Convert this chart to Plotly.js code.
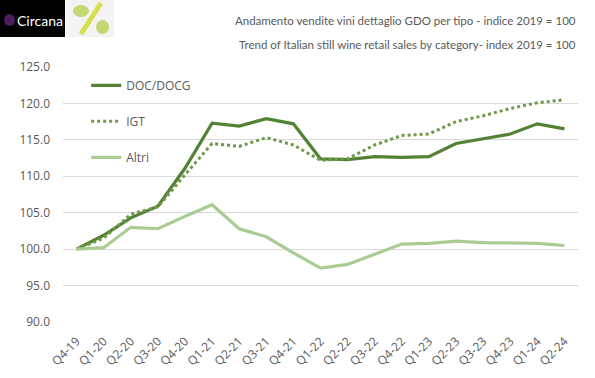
<!DOCTYPE html>
<html>
<head>
<meta charset="utf-8">
<script src="https://cdn.plot.ly/plotly-3.0.1.min.js"></script>
<style>html,body{margin:0;padding:0;background:#fff;}#chart{width:595px;height:378px;}</style>
</head>
<body>
<div id="chart"></div>
<script>
const quarters = ["Q4-19","Q1-20","Q2-20","Q3-20","Q4-20","Q1-21","Q2-21","Q3-21","Q4-21","Q1-22","Q2-22","Q3-22","Q4-22","Q1-23","Q2-23","Q3-23","Q4-23","Q1-24","Q2-24"];
const docDocg = [100.0,101.9,104.3,105.9,111.1,117.3,116.9,117.9,117.2,112.4,112.3,112.7,112.6,112.7,114.5,115.1,115.8,117.2,116.5];
const igt     = [100.0,101.5,104.8,105.8,110.2,114.5,114.1,115.3,114.3,112.2,112.4,114.3,115.6,115.8,117.5,118.3,119.3,120.1,120.5];
const altri   = [100.0,100.2,103.0,102.8,104.5,106.1,102.8,101.7,99.5,97.4,97.9,99.3,100.7,100.8,101.1,100.9,100.9,100.8,100.5];
const seriesNames = ["DOC/DOCG","IGT","Altri"];
const titleLines = ["Andamento vendite vini dettaglio GDO per tipo - indice 2019 = 100",
                    "Trend of Italian still wine retail sales by category- index 2019 = 100"];

const font = "Open Sans, Liberation Sans, Arial, sans-serif";
const titleFont = "Lato, sans-serif";
const PW = 515, PH = 255;
const traces = [
  {x: quarters, y: docDocg, name: seriesNames[0], mode: "lines", legendgroup: "a",
   line: {color: "#548235", width: 3.2}},
  {x: quarters, y: igt, name: seriesNames[1], mode: "lines", legendgroup: "b",
   line: {color: "#6c9a48", width: 3, dash: "dot"}},
  {x: quarters, y: altri, name: seriesNames[2], mode: "lines", legendgroup: "c",
   line: {color: "#a9cc95", width: 3.2}}
];

const layout = {
  width: 595, height: 378,
  margin: {l: 63, r: 17, t: 67, b: 56},
  paper_bgcolor: "#ffffff", plot_bgcolor: "#ffffff",
  font: {family: font, color: "#595959", size: 12},
  showlegend: true,
  legend: {x: 0.045, y: 0.985, xanchor: "left", yanchor: "top", traceorder: "grouped",
           tracegroupgap: 17, bgcolor: "rgba(0,0,0,0)", font: {size: 12, color: "#595959"}},
  xaxis: {type: "category", range: [-0.5, quarters.length - 0.5], tickangle: -45, showgrid: false,
          zeroline: false, showline: false, ticks: "", ticklabelstandoff: 9,
          tickfont: {size: 12, color: "#595959"}, fixedrange: true},
  yaxis: {range: [90, 125], dtick: 5, tick0: 90, tickformat: ".1f", showgrid: true,
          gridcolor: "#d9d9d9", gridwidth: 1, zeroline: false, showline: false, ticks: "",
          ticklabelstandoff: 12, tickfont: {size: 12, color: "#595959"}, fixedrange: true},
  annotations: [
    {xref: "paper", yref: "paper", x: 1, y: 1 + (67 - 21) / PH, text: titleLines[0],
     showarrow: false, xanchor: "right", yanchor: "middle",
     font: {size: 11.5, color: "#595959", family: titleFont}},
    {xref: "paper", yref: "paper", x: 1, y: 1 + (67 - 44) / PH, text: titleLines[1],
     showarrow: false, xanchor: "right", yanchor: "middle",
     font: {size: 11.5, color: "#595959", family: titleFont}},
    {xref: "paper", yref: "paper", x: -63/PW + 15/PW, y: 1 + (67-20)/PH, text: "Circana",
     showarrow: false, xanchor: "left", yanchor: "middle",
     font: {size: 14, color: "#ffffff", family: "Lato, sans-serif"}}
  ],
  shapes: [
    {type: "rect", xref: "paper", yref: "paper", x0: -63/PW, x1: 2/PW, y0: 1 + 30/PH, y1: 1 + 67/PH,
     fillcolor: "#000000", line: {width: 0}},
    {type: "circle", xref: "paper", yref: "paper", x0: -59/PW, x1: -48/PW, y0: 1 + 41/PH, y1: 1 + 53/PH,
     fillcolor: "#4a1d5e", line: {width: 0}},
    {type: "rect", xref: "paper", yref: "paper", x0: 3/PW, x1: 51/PW, y0: 1 + 30/PH, y1: 1 + 67/PH,
     fillcolor: "#f3f3f3", line: {width: 0}},
    {type: "line", xref: "paper", yref: "paper", x0: 18/PW, x1: 38/PW, y0: 1 + 33/PH, y1: 1 + 64/PH,
     line: {color: "#d6e04a", width: 5}},
    {type: "circle", xref: "paper", yref: "paper", x0: 10/PW, x1: 26/PW, y0: 1 + 50/PH, y1: 1 + 62/PH,
     fillcolor: "#c3d870", line: {width: 0}},
    {type: "circle", xref: "paper", yref: "paper", x0: 33/PW, x1: 46/PW, y0: 1 + 33/PH, y1: 1 + 47/PH,
     fillcolor: "#c3d870", line: {width: 0}}
  ]
};

Plotly.newPlot("chart", traces, layout, {displayModeBar: false, staticPlot: true});
</script>
</body>
</html>
